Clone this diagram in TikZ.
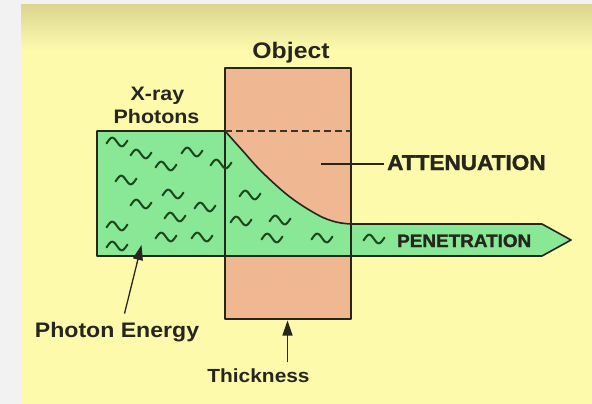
\documentclass[tikz,border=0pt]{standalone}
\usepackage{fontspec}
\usetikzlibrary{arrows.meta}
\newfontfamily\lblfont[FakeStretch=1.1]{Liberation Sans}
\newfontfamily\heavyfont[FakeStretch=1.05,FakeBold=1.5]{Liberation Sans}
\definecolor{bgyellow}{RGB}{253,250,172}
\definecolor{bgtop}{RGB}{220,214,145}
\definecolor{bggray}{RGB}{242,242,242}
\definecolor{salmon}{RGB}{240,184,146}
\definecolor{photongreen}{RGB}{136,232,150}
\definecolor{inkc}{RGB}{38,38,30}
\definecolor{wavec}{RGB}{30,70,30}
\begin{document}
\begin{tikzpicture}[x=1pt,y=-1pt,
  outline/.style={draw=inkc, line width=1.6pt, line join=round},
  wavestyle/.style={draw=wavec, line width=2pt, line cap=round},
  wave/.pic={\draw[wavestyle] plot[domain=-10.5:10.5, samples=40, smooth] (\x,{4.3*sin(19*\x)});},
  lbl/.style={inner sep=0pt, text=inkc},
  arr/.style={draw=inkc, line width=1.3pt, -{Triangle[length=15pt,width=10pt]}},
  leader/.style={draw=inkc, line width=1.3pt}]
\useasboundingbox (0,0) rectangle (592,404);
% background
\fill[bggray] (0,0) rectangle (592,404);
\fill[bgyellow] (21,5) rectangle (592,404);
\shade[top color=bgtop, bottom color=bgyellow] (21,5) rectangle (592,50);
% object
\node[fill=salmon, draw=none, inner sep=0pt, minimum width=126pt, minimum height=251pt] (obj) at (288,193.5) {};
% photon beam
\path[fill=photongreen, outline] (97,131) -- (225,131)
  -- plot[smooth, tension=0.6] coordinates {(225,131) (242,150) (262,172) (290,197) (318,215) (336,222) (351,224)}
  -- (542,224) -- (571,240) -- (542,256) -- (97,256) -- cycle;
\draw[outline] (obj.north west) rectangle (obj.south east);
\coordinate (dashL) at (225,131);
\coordinate (dashR) at (351,131);
\draw[draw=inkc!90!salmon, line width=1.5pt, dash pattern=on 7pt off 4pt] (dashL) -- (dashR);
% photons
\foreach \px/\py in {117/142, 141/154, 192/152, 166/166, 221/164, 126/180, 173/194, 141/204, 205/207, 175/217, 117/226, 166/237, 202/237, 117/246, 250/195, 241/221, 280/220, 272/238, 322/238, 374/239}
  \pic at (\px,\py) {wave};
% labels
\node[lbl, font=\lblfont\bfseries\fontsize{22.5}{24}\selectfont, anchor=base] (objlbl) at (291,58.5) {Object};
\node[lbl, font=\lblfont\bfseries\fontsize{19.5}{22}\selectfont, anchor=base] (xray1) at (157.5,100) {X-ray};
\node[lbl, font=\lblfont\bfseries\fontsize{19.5}{22}\selectfont, anchor=base] (xray2) at (156.5,123) {Photons};
\node[lbl, font=\heavyfont\bfseries\fontsize{21.5}{24}\selectfont, anchor=base west] (att) at (387,170) {ATTENUATION};
\node[lbl, font=\heavyfont\bfseries\fontsize{18}{20}\selectfont, anchor=base west] (pen) at (397,247) {PENETRATION};
\node[lbl, font=\lblfont\bfseries\fontsize{21}{24}\selectfont, anchor=base] (pe) at (117,337) {Photon Energy};
\node[lbl, font=\lblfont\bfseries\fontsize{19}{22}\selectfont, anchor=base] (th) at (258.5,382) {Thickness};
% connectors
\coordinate (attL) at (321,164);
\draw[leader] (attL) -- ([xshift=-3pt]attL -| att.west);
\coordinate (peTip) at (141.5,245);
\draw[arr] ([xshift=7.5pt,yshift=8pt]pe.north) -- (peTip);
\coordinate (thTip) at (287.5,320.5);
\draw[arr] ([xshift=29pt,yshift=6pt]th.north) -- (thTip);
\end{tikzpicture}
\end{document}
